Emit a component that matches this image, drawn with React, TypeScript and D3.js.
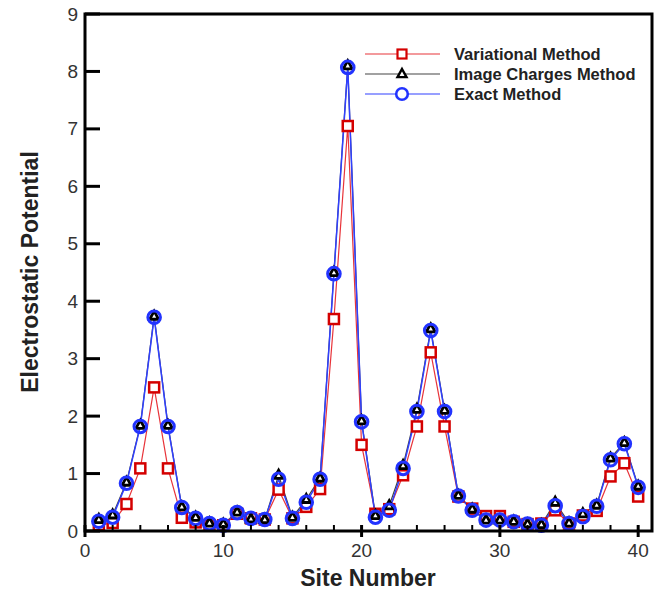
import React from "react";
import * as d3 from "d3";

const sites = d3.range(1, 41);
const variational = [0.1, 0.14, 0.47, 1.09, 2.5, 1.09, 0.23, 0.15, 0.1, 0.1, 0.3, 0.22, 0.2, 0.72, 0.22, 0.42, 0.73, 3.69, 7.05, 1.5, 0.3, 0.38, 0.97, 1.82, 3.11, 1.82, 0.6, 0.39, 0.26, 0.26, 0.16, 0.12, 0.13, 0.36, 0.13, 0.27, 0.35, 0.95, 1.18, 0.6];
const imageCharges = [0.2, 0.28, 0.85, 1.84, 3.74, 1.84, 0.42, 0.24, 0.14, 0.12, 0.33, 0.21, 0.2, 0.97, 0.24, 0.55, 0.92, 4.5, 8.1, 1.92, 0.27, 0.44, 1.14, 2.12, 3.52, 2.1, 0.62, 0.38, 0.19, 0.19, 0.17, 0.12, 0.11, 0.5, 0.14, 0.3, 0.45, 1.27, 1.54, 0.78];
const exact = [0.17, 0.24, 0.83, 1.82, 3.72, 1.82, 0.41, 0.22, 0.13, 0.1, 0.32, 0.22, 0.2, 0.9, 0.22, 0.5, 0.9, 4.48, 8.07, 1.9, 0.24, 0.36, 1.09, 2.08, 3.49, 2.08, 0.61, 0.36, 0.19, 0.19, 0.16, 0.12, 0.1, 0.44, 0.13, 0.25, 0.43, 1.24, 1.52, 0.76];
const xMajorTicks = [0, 10, 20, 30, 40];
const xMinorTicks = d3.range(2, 41, 2).filter((v) => v % 10 !== 0);
const yTicks = [0, 1, 2, 3, 4, 5, 6, 7, 8, 9];
const legendLabels = ["Variational Method", "Image Charges Method", "Exact Method"];

const W = 660, H = 591;
const x = d3.scaleLinear().domain([0, 41]).range([85, 652]);
const y = d3.scaleLinear().domain([0, 9]).range([531, 14]);

const RED_LINE = "#e8343a";
const RED = "#d40000";
const BLACK_LINE = "#444";
const BLUE_LINE = "#3040ff";
const BLUE = "#2233ff";
const FONT = "'Liberation Sans', Arial, Helvetica, sans-serif";

function triPath(cx: number, cy: number, s: number) {
  const h = s * 0.9;
  return `M${cx},${cy - h * 0.62}L${cx + s / 2},${cy + h * 0.38}L${cx - s / 2},${cy + h * 0.38}Z`;
}

export default function App() {
  const line = d3.line<number>().x((_, i) => x(sites[i])).y((d) => y(d));
  const legX0 = 365, legX1 = 440, legMid = 402, legTextX = 454;
  const legY = [54, 74, 94];
  return (
    <svg width={W} height={H} style={{ position: "absolute", left: 0, top: 0, background: "#fff" }} fontFamily={FONT}>
      <path d={line(variational) || ""} fill="none" stroke={RED_LINE} strokeWidth={1.2} />
      <path d={line(imageCharges) || ""} fill="none" stroke={BLACK_LINE} strokeWidth={1.2} />
      <path d={line(exact) || ""} fill="none" stroke={BLUE_LINE} strokeWidth={1.5} />
      {variational.map((v, i) => (
        <rect key={"r" + i} x={x(sites[i]) - 5} y={y(v) - 5} width={10} height={10} fill="#fff" stroke={RED} strokeWidth={2.5} />
      ))}
      {imageCharges.map((v, i) => (
        <path key={"t" + i} d={triPath(x(sites[i]), y(v), 9)} fill="#fff" stroke="#000" strokeWidth={2.8} />
      ))}
      {exact.map((v, i) => (
        <circle key={"c" + i} cx={x(sites[i])} cy={y(v)} r={6.3} fill="none" stroke={BLUE} strokeWidth={3} />
      ))}
      <rect x={85} y={14} width={567} height={517} fill="none" stroke="#000" strokeWidth={3} />
      {xMajorTicks.map((t) => (
        <line key={"xM" + t} x1={x(t)} x2={x(t)} y1={525} y2={537} stroke="#000" strokeWidth={3} />
      ))}
      {xMinorTicks.map((t) => (
        <line key={"xm" + t} x1={x(t)} x2={x(t)} y1={525} y2={531} stroke="#000" strokeWidth={2} />
      ))}
      {yTicks.map((t) => (
        <line key={"y" + t} x1={85} x2={100} y1={y(t)} y2={y(t)} stroke="#000" strokeWidth={3} />
      ))}
      {xMajorTicks.map((t) => (
        <text key={"xl" + t} x={x(t)} y={557} textAnchor="middle" fontSize={19} fill="#333">{t}</text>
      ))}
      {yTicks.map((t) => (
        <text key={"yl" + t} x={78} y={y(t) + 6.5} textAnchor="end" fontSize={19} fill="#333">{t}</text>
      ))}
      <text x={368} y={586} textAnchor="middle" fontSize={23} fontWeight="bold" fill="#222">Site Number</text>
      <text transform="translate(38,272) rotate(-90)" textAnchor="middle" fontSize={23} fontWeight="bold" fill="#222">Electrostatic Potential</text>
      <line x1={legX0} x2={legX1} y1={legY[0]} y2={legY[0]} stroke={RED_LINE} strokeWidth={1.2} />
      <rect x={legMid - 4.5} y={legY[0] - 4.5} width={9} height={9} fill="#fff" stroke={RED} strokeWidth={2.2} />
      <line x1={legX0} x2={legX1} y1={legY[1]} y2={legY[1]} stroke={BLACK_LINE} strokeWidth={1.2} />
      <path d={triPath(legMid, legY[1], 9)} fill="#fff" stroke="#000" strokeWidth={2.4} />
      <line x1={legX0} x2={legX1} y1={legY[2]} y2={legY[2]} stroke={BLUE_LINE} strokeWidth={1.2} />
      <circle cx={legMid} cy={legY[2]} r={5.8} fill="#fff" stroke={BLUE} strokeWidth={2.6} />
      {legendLabels.map((l, i) => (
        <text key={l} x={legTextX} y={legY[i] + 5.5} fontSize={16.5} fontWeight="bold" fill="#222">{l}</text>
      ))}
    </svg>
  );
}
